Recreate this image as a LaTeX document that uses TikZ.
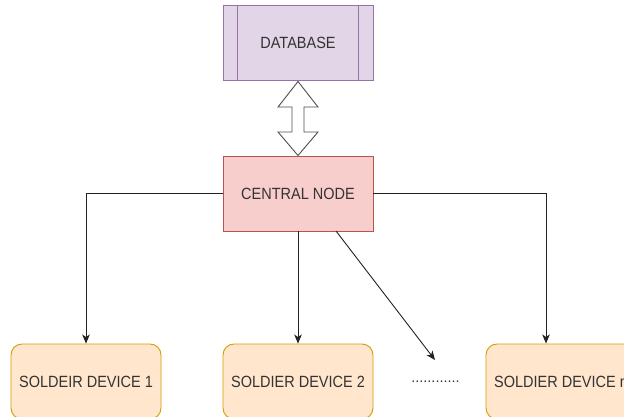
\documentclass[tikz,border=0pt]{standalone}
\usepackage{fontspec}
\setmainfont{Liberation Sans}
\usetikzlibrary{arrows.meta,calc}
\definecolor{dbfill}{HTML}{E1D5E7}
\definecolor{dbline}{HTML}{9673A6}
\definecolor{cnfill}{HTML}{F8CECC}
\definecolor{cnline}{HTML}{B85450}
\definecolor{dvfill}{HTML}{FFE6CC}
\definecolor{dvline}{HTML}{D79B00}
\definecolor{txt}{HTML}{333333}
\definecolor{edge}{HTML}{222222}
\begin{document}
\begin{tikzpicture}[x=1pt,y=-1pt,
  lbl/.style={font=\fontsize{14.5}{17}\selectfont, text=txt},
  box/.style={lbl, minimum width=150pt, minimum height=75pt, inner sep=0pt, line width=0.9pt},
  dbbox/.style={box, draw=dbline, fill=dbfill},
  cnbox/.style={box, draw=cnline, fill=cnfill},
  dvbox/.style={box, draw=dvline, fill=dvfill, rounded corners=11pt},
  conn/.style={draw=edge, line width=0.9pt, -{Stealth[length=9pt,width=7.5pt,inset=2.5pt]}},
  dbl/.style={draw=edge!80, line width=0.9pt, fill=white, line join=miter}
]
\useasboundingbox (0,0) rectangle (624,416);
\clip (0,0) rectangle (624,416);
% nodes
\node[dbbox] (db) at (298,43) {\scalebox{1}[1.12]{DATABASE}};
\draw[dbline, line width=0.9pt] ($(db.north west)+(15,0)$) -- ($(db.south west)+(15,0)$);
\draw[dbline, line width=0.9pt] ($(db.north east)+(-15,0)$) -- ($(db.south east)+(-15,0)$);
\node[cnbox] (cn) at (298,193.5) {\scalebox{1}[1.12]{CENTRAL NODE}};
\node[dvbox] (d1) at (86,381.5) {\scalebox{1}[1.12]{SOLDEIR DEVICE 1}};
\node[dvbox] (d2) at (298,381.5) {\scalebox{1}[1.12]{SOLDIER DEVICE 2}};
\node[dvbox] (dn) at (561,381.5) {\scalebox{1}[1.12]{SOLDIER DEVICE n}};
\node[lbl] (dots) at (435.5,381.5) {............};
% double arrow
\draw[dbl] (298,81.5) -- (318,107) -- (304,107) -- (304,132) -- (318,132) -- (298,155.5)
  -- (278,132) -- (292,132) -- (292,107) -- (278,107) -- cycle;
% connectors
\coordinate (nA) at (546,343.5);
\coordinate (dgs) at (336,231);
\coordinate (dge) at (435,360);
\draw[conn] (cn.west) -| (d1.north);
\draw[conn] (cn.south) -- (d2.north);
\draw[conn] (cn.east) -| (nA);
\draw[conn] (dgs) -- (dge);
\end{tikzpicture}
\end{document}
